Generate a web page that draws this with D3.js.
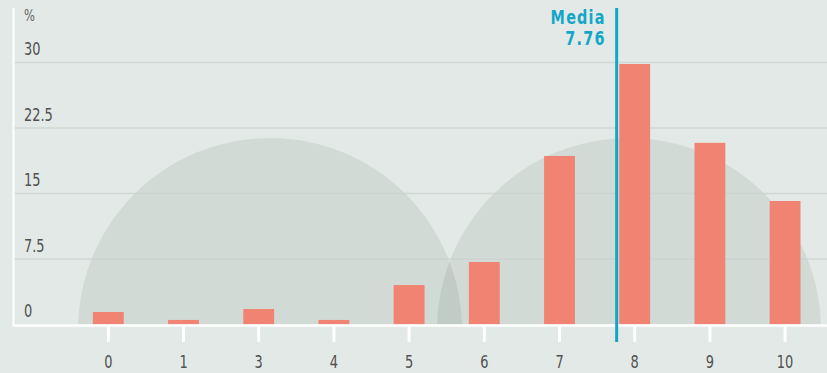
<!DOCTYPE html>
<html>
<head>
<meta charset="utf-8">
<script src="https://cdn.jsdelivr.net/npm/d3@7/dist/d3.min.js"></script>
<style>
  html, body { margin: 0; padding: 0; background: #e3e9e6; }
  svg { display: block; }
  text { font-family: "DejaVu Sans Condensed", "Liberation Sans Narrow", sans-serif; }
</style>
</head>
<body>
<div id="chart"></div>
<script>
// Score distribution (%), with the mean marked
const categories = ["0", "1", "3", "4", "5", "6", "7", "8", "9", "10"];
const shares = [1.43, 0.52, 1.77, 0.52, 4.52, 7.16, 19.3, 29.83, 20.8, 14.14];
const yTicks = [0, 7.5, 15, 22.5, 30];
const yTickLabels = ["0", "7.5", "15", "22.5", "30"];
const meanValue = 7.76;
const meanLabel = ["Media", "7.76"];

const W = 827, H = 373;
const NARROW = 0.8; // horizontal squeeze for a tall, narrow type look

const svg = d3.select("#chart").append("svg")
  .attr("width", W).attr("height", H);

svg.append("rect").attr("width", W).attr("height", H).attr("fill", "#e3e9e6");

const x = d3.scaleBand()
  .domain(categories)
  .range([70.7, 822.7])
  .paddingInner(0.59)
  .paddingOuter(0.295);

const y = d3.scaleLinear().domain([0, 30]).range([324.5, 62.5]);

const center = c => x(c) + x.bandwidth() / 2;

// decorative half discs behind the bars
const discs = [
  { cx: 270, cy: 330, r: 192 },
  { cx: 629, cy: 330, r: 192 }
];
svg.append("clipPath").attr("id", "plot-clip")
  .append("rect").attr("x", 0).attr("y", 0).attr("width", W).attr("height", y(0));
svg.append("g").attr("clip-path", "url(#plot-clip)")
  .selectAll("circle").data(discs).join("circle")
  .attr("cx", d => d.cx).attr("cy", d => d.cy).attr("r", d => d.r)
  .attr("fill", "rgb(57,93,70)").attr("fill-opacity", 0.1);

// horizontal gridlines
svg.append("g").selectAll("line").data(yTicks.filter(t => t > 0)).join("line")
  .attr("x1", 14).attr("x2", W)
  .attr("y1", d => y(d)).attr("y2", d => y(d))
  .attr("stroke", "#c9d1cd").attr("stroke-opacity", 0.7).attr("stroke-width", 1.5);

// y tick labels sit just above their gridline
svg.append("g").selectAll("text").data(yTicks).join("text")
  .attr("transform", d => `translate(24,${y(d) - 7.5}) scale(${NARROW},1)`)
  .attr("fill", "#505050").attr("font-size", 18)
  .text((d, i) => yTickLabels[i]);

svg.append("text").attr("transform", `translate(24,21) scale(${NARROW},1)`)
  .attr("fill", "#666").attr("font-size", 16).text("%");

// bars
svg.append("g").selectAll("rect").data(shares).join("rect")
  .attr("x", (d, i) => x(categories[i]))
  .attr("width", x.bandwidth())
  .attr("y", d => y(d))
  .attr("height", d => y(0) - y(d))
  .attr("fill", "#f08372");

// axes
svg.append("line").attr("x1", 13.5).attr("x2", 13.5).attr("y1", 8).attr("y2", 326)
  .attr("stroke", "#fff").attr("stroke-width", 2);
svg.append("line").attr("x1", 12.5).attr("x2", W).attr("y1", 325.5).attr("y2", 325.5)
  .attr("stroke", "#fff").attr("stroke-width", 2.5);

const xAxis = d3.axisBottom(x).tickSize(16).tickPadding(13);
const gx = svg.append("g").attr("transform", "translate(0,326)").call(xAxis);
gx.select(".domain").remove();
gx.selectAll(".tick line").attr("stroke", "#fff").attr("stroke-width", 3);
gx.selectAll(".tick text")
  .attr("fill", "#505050").attr("font-size", 18)
  .attr("transform", `scale(${NARROW},1)`)
  .style("font-family", '"DejaVu Sans Condensed", "Liberation Sans Narrow", sans-serif');

// mean marker, placed between the bands of its neighbouring scores
const lo = Math.floor(meanValue), hi = lo + 1;
const mx = center(String(lo)) + (meanValue - lo) * (center(String(hi)) - center(String(lo)));
svg.append("line").attr("x1", mx).attr("x2", mx).attr("y1", 8).attr("y2", 342)
  .attr("stroke", "#14a6c9").attr("stroke-width", 3);

svg.append("g").selectAll("text").data(meanLabel).join("text")
  .attr("transform", (d, i) => `translate(${mx - 11},${24 + i * 21}) scale(${NARROW},1)`)
  .attr("text-anchor", "end")
  .attr("fill", "#14a6c9").attr("font-size", 20).attr("font-weight", "bold")
  .attr("letter-spacing", 1.5)
  .text(d => d);
</script>
</body>
</html>
